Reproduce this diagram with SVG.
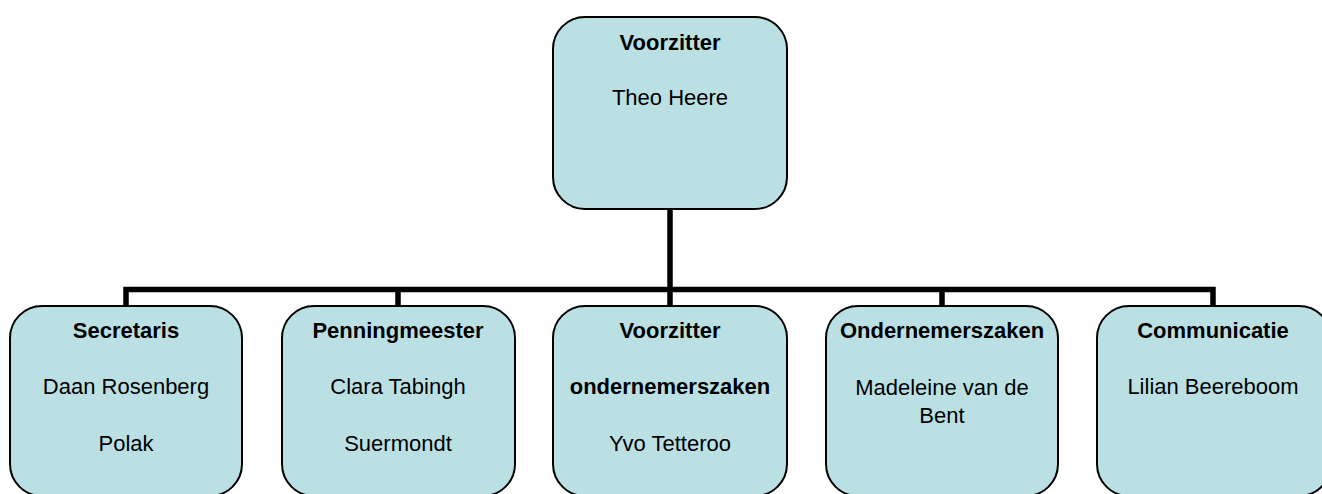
<svg xmlns="http://www.w3.org/2000/svg" width="1322" height="494" viewBox="0 0 1322 494">
<style>
.box{fill:#BBE0E3;stroke:#000;stroke-width:2}
.t{font-family:"Liberation Sans",Arial,sans-serif;font-size:22px;fill:#000;text-anchor:middle}
.b{font-weight:bold}
.c{stroke:#000;stroke-width:5.5;fill:none}
</style>
<rect width="1322" height="494" fill="#fff"/>
<g id="connectors">
<path class="c" d="M670 209V289.5M126 306V289.5H1213V306M398 289.5V306M670 289.5V306M942 289.5V306"/>
</g>
<g id="voorzitter">
<rect class="box" x="553" y="17" width="234" height="192" rx="32"/>
<text class="t b" x="670" y="50">Voorzitter</text>
<text class="t" x="670" y="105">Theo Heere</text>
</g>
<g id="secretaris">
<rect class="box" x="10" y="306" width="232" height="190" rx="32"/>
<text class="t b" x="126" y="338">Secretaris</text>
<text class="t" x="126" y="394">Daan Rosenberg</text>
<text class="t" x="126" y="451">Polak</text>
</g>
<g id="penningmeester">
<rect class="box" x="282" y="306" width="233" height="190" rx="32"/>
<text class="t b" x="398" y="338">Penningmeester</text>
<text class="t" x="398" y="394">Clara Tabingh</text>
<text class="t" x="398" y="451">Suermondt</text>
</g>
<g id="voorzitter-ondernemerszaken">
<rect class="box" x="553" y="306" width="234" height="190" rx="32"/>
<text class="t b" x="670" y="338">Voorzitter</text>
<text class="t b" x="670" y="394">ondernemerszaken</text>
<text class="t" x="670" y="451">Yvo Tetteroo</text>
</g>
<g id="ondernemerszaken">
<rect class="box" x="826" y="306" width="232" height="190" rx="32"/>
<text class="t b" x="942" y="338">Ondernemerszaken</text>
<text class="t" x="942" y="395">Madeleine van de</text>
<text class="t" x="942" y="423">Bent</text>
</g>
<g id="communicatie">
<rect class="box" x="1097" y="306" width="234" height="190" rx="32"/>
<text class="t b" x="1213" y="338">Communicatie</text>
<text class="t" x="1213" y="394">Lilian Beereboom</text>
</g>
</svg>
